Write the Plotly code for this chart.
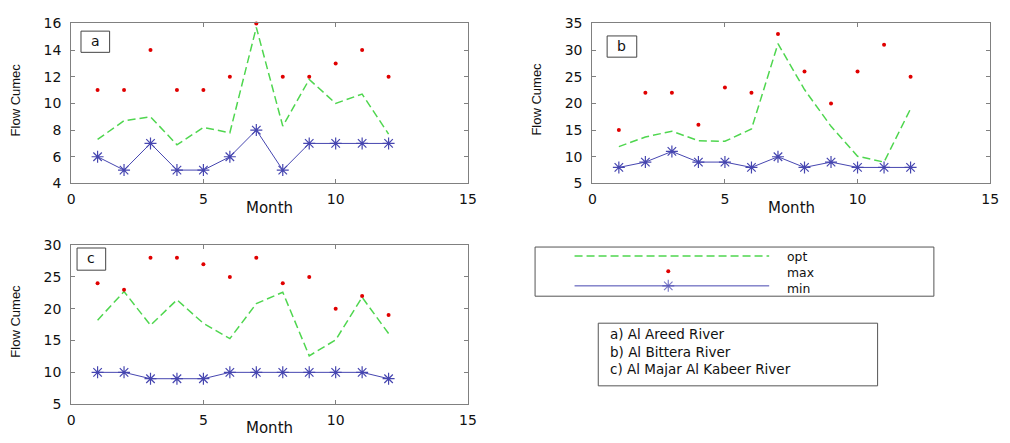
import plotly.graph_objects as go

# Monthly flow (cumec) for three rivers: optimal release, maximum and minimum
months = list(range(1, 13))

areed_opt = [7.3, 8.7, 9.0, 6.9, 8.2, 7.8, 15.7, 8.3, 11.8, 10.0, 10.7, 7.7]
areed_max = [11, 11, 14, 11, 11, 12, 16, 12, 12, 13, 14, 12]
areed_min = [6, 5, 7, 5, 5, 6, 8, 5, 7, 7, 7, 7]

bittera_opt = [11.9, 13.7, 14.8, 13.0, 12.9, 15.2, 31.2, 22.6, 15.7, 10.1, 9.0, 19.0]
bittera_max = [15, 22, 22, 16, 23, 22, 33, 26, 20, 26, 31, 25]
bittera_min = [8, 9, 11, 9, 9, 8, 10, 8, 9, 8, 8, 8]

majar_opt = [18.2, 22.7, 17.4, 21.4, 17.7, 15.3, 20.8, 22.6, 12.6, 15.1, 21.8, 16.1]
majar_max = [24, 23, 28, 28, 27, 25, 28, 24, 25, 20, 22, 19]
majar_min = [10, 10, 9, 9, 9, 10, 10, 10, 10, 10, 10, 9]

series_names = ["opt", "max", "min"]
panel_tags = ["a", "b", "c"]
river_labels = ["a) Al Areed River", "b) Al Bittera River", "c) Al Majar Al Kabeer River"]

y_ranges = [[4, 16], [5, 35], [5, 30]]
y_dticks = [2, 5, 5]

W, H = 1010, 443
GREEN = "#4fd64f"
RED = "#e00000"
BLUE_LINE = "#4646b0"
BLUE_MARK = "#1a1acc"
FRAME = "#808080"
TXT = "#111111"
FONT = "DejaVu Sans"


def px(x):
    return x / W


def py(y):
    return 1 - y / H


# plot areas in pixels: (left, right, top, bottom)
boxes = [(68, 470, 16, 182), (596, 999, 16, 182), (68, 470, 246, 411)]

fig = go.Figure()

data = [
    (areed_opt, areed_max, areed_min),
    (bittera_opt, bittera_max, bittera_min),
    (majar_opt, majar_max, majar_min),
]

for i, (opt, mx, mn) in enumerate(data):
    xa = "x" if i == 0 else f"x{i+1}"
    ya = "y" if i == 0 else f"y{i+1}"
    fig.add_trace(go.Scatter(
        x=months, y=opt, xaxis=xa, yaxis=ya, mode="lines", name=series_names[0],
        line=dict(color=GREEN, width=1.5, dash="8px,4px"), cliponaxis=False))
    fig.add_trace(go.Scatter(
        x=months, y=mx, xaxis=xa, yaxis=ya, mode="markers", name=series_names[1],
        marker=dict(color=RED, size=4, symbol="circle"), cliponaxis=False))
    fig.add_trace(go.Scatter(
        x=months, y=mn, xaxis=xa, yaxis=ya, mode="lines+markers", name=series_names[2],
        line=dict(color=BLUE_LINE, width=1),
        marker=dict(symbol="asterisk-open", size=10,
                    line=dict(color=BLUE_MARK, width=1.2)),
        cliponaxis=False))

layout = dict(
    width=W, height=H,
    margin=dict(l=0, r=0, t=0, b=0),
    paper_bgcolor="white", plot_bgcolor="white",
    showlegend=False,
    font=dict(family=FONT, size=14, color=TXT),
)

axis_common = dict(
    showgrid=False, zeroline=False, showline=True, linecolor=FRAME, linewidth=1,
    mirror="ticks", ticks="inside", ticklen=4, tickcolor=FRAME, tickwidth=1,
    tickfont=dict(family=FONT, size=14, color=TXT),
)

for i, (l, r, t, b) in enumerate(boxes):
    sx = "" if i == 0 else str(i + 1)
    layout[f"xaxis{sx}"] = dict(
        axis_common, domain=[px(l), px(r)], range=[0, 15], dtick=5, tick0=0,
        anchor=f"y{sx}", ticklabelstandoff=3)
    layout[f"yaxis{sx}"] = dict(
        axis_common, domain=[py(b), py(t)], range=y_ranges[i], dtick=y_dticks[i],
        anchor=f"x{sx}", ticklabelstandoff=6)

# hidden axes holding the legend key samples
lg_l, lg_r, lg_t, lg_b = 538, 942, 248, 299
layout["xaxis4"] = dict(domain=[px(lg_l), px(lg_r)], range=[0, 1], visible=False,
                        anchor="y4", fixedrange=True)
layout["yaxis4"] = dict(domain=[py(lg_b), py(lg_t)], range=[0, 1], visible=False,
                        anchor="x4", fixedrange=True)

fig.update_layout(**layout)

key_x0, key_x1, key_mid = 0.099, 0.587, 0.334
key_rows = [0.82, 0.51, 0.21]
fig.add_trace(go.Scatter(x=[key_x0, key_x1], y=[key_rows[0]] * 2, xaxis="x4", yaxis="y4",
                         mode="lines", line=dict(color=GREEN, width=1.5, dash="8px,4px"),
                         hoverinfo="skip"))
fig.add_trace(go.Scatter(x=[key_mid], y=[key_rows[1]], xaxis="x4", yaxis="y4",
                         mode="markers", marker=dict(color=RED, size=4), hoverinfo="skip"))
fig.add_trace(go.Scatter(x=[key_x0, key_mid, key_x1], y=[key_rows[2]] * 3, xaxis="x4", yaxis="y4",
                         mode="lines+markers", line=dict(color=BLUE_LINE, width=1),
                         marker=dict(symbol="asterisk-open", size=[0, 10, 0],
                                     line=dict(color=BLUE_MARK, width=1.2)),
                         hoverinfo="skip"))

shapes = []
annotations = []

# legend frames
shapes.append(dict(type="rect", xref="paper", yref="paper",
                   x0=px(lg_l), x1=px(lg_r), y0=py(lg_b), y1=py(lg_t),
                   line=dict(color="#555555", width=1)))
shapes.append(dict(type="rect", xref="paper", yref="paper",
                   x0=px(602), x1=px(885), y0=py(392), y1=py(327),
                   line=dict(color="#555555", width=1)))

# series names beside the key samples (one block, ~16px per row)
annotations.append(dict(text="<br>".join(series_names), xref="paper", yref="paper",
                        x=px(791), y=py(274), xanchor="left", yanchor="middle",
                        align="left", showarrow=False,
                        font=dict(family=FONT, size=12.4, color=TXT)))

# river names
annotations.append(dict(text="<br>".join(river_labels), xref="paper", yref="paper",
                        x=px(612), y=py(356), xanchor="left", yanchor="middle",
                        align="left", showarrow=False,
                        font=dict(family=FONT, size=13.5, color=TXT)))

# panel tags in framed boxes
tag_boxes = [(78, 107, 24, 46), (611, 641, 29, 51), (74, 103, 249, 272)]
for tag, (l, r, t, b) in zip(panel_tags, tag_boxes):
    shapes.append(dict(type="rect", xref="paper", yref="paper",
                       x0=px(l), x1=px(r), y0=py(b), y1=py(t),
                       line=dict(color="#444444", width=1), fillcolor="white"))
    annotations.append(dict(text=tag, xref="paper", yref="paper",
                            x=px((l + r) / 2), y=py((t + b) / 2 - 1),
                            xanchor="center", yanchor="middle", showarrow=False,
                            font=dict(family=FONT, size=14, color=TXT)))

# axis titles
for (l, r, t, b) in boxes:
    annotations.append(dict(text="Month", xref="paper", yref="paper",
                            x=px((l + r) / 2), y=py(b + 25), xanchor="center", yanchor="middle",
                            showarrow=False, font=dict(family=FONT, size=15, color=TXT)))
    annotations.append(dict(text="Flow Cumec", xref="paper", yref="paper",
                            x=px(l - 56), y=py((t + b) / 2 - 4), xanchor="center", yanchor="middle",
                            textangle=-90, showarrow=False,
                            font=dict(family="Liberation Sans", size=13, color=TXT)))

fig.update_layout(shapes=shapes, annotations=annotations)

fig.write_html("out.html")
